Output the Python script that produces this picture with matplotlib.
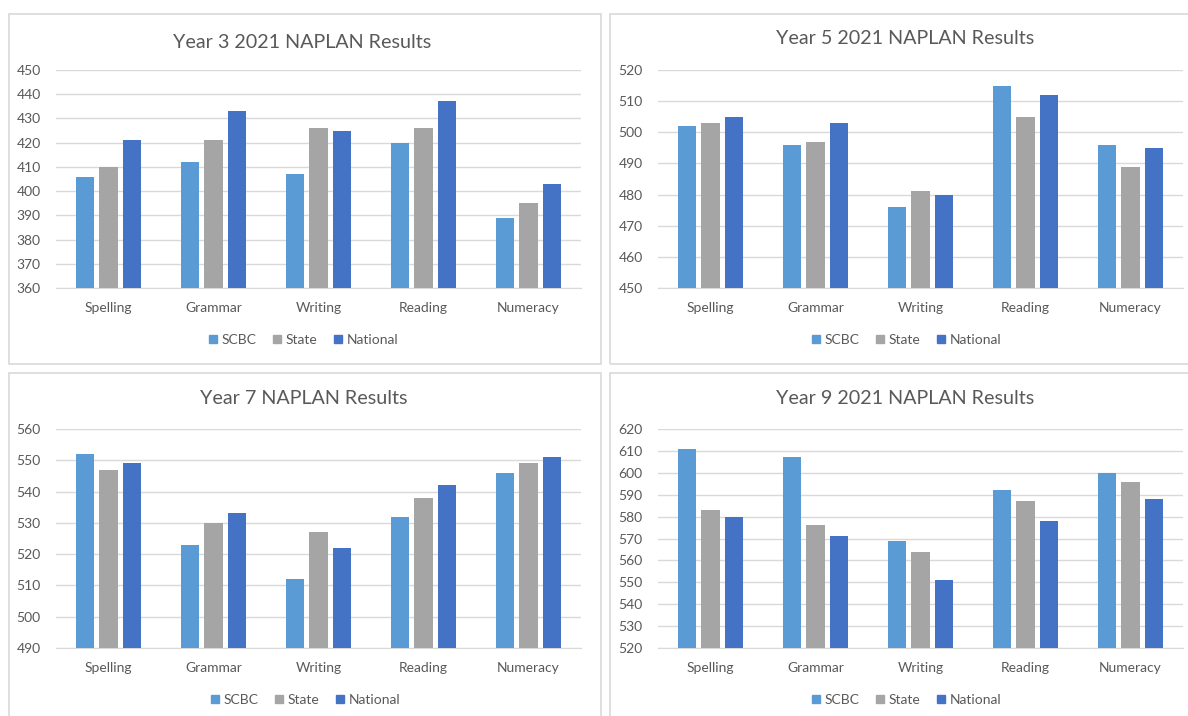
import numpy as np
import matplotlib
matplotlib.use("Agg")
import matplotlib.pyplot as plt
from matplotlib.patches import Rectangle
from matplotlib.lines import Line2D

plt.rcParams['font.family'] = ['Lato', 'DejaVu Sans']

# data
subjects = ["Spelling", "Grammar", "Writing", "Reading", "Numeracy"]
series = ["SCBC", "State", "National"]
colors = ["#5B9BD5", "#A5A5A5", "#4472C4"]

y3_scbc = [406, 412, 407, 420, 389]
y3_state = [410, 421, 426, 426, 395]
y3_nat = [421, 433, 425, 437, 403]

y5_scbc = [502, 496, 476, 515, 496]
y5_state = [503, 497, 481, 505, 489]
y5_nat = [505, 503, 480, 512, 495]

y7_scbc = [552, 523, 512, 532, 546]
y7_state = [547, 530, 527, 538, 549]
y7_nat = [549, 533, 522, 542, 551]

y9_scbc = [611, 607, 569, 592, 600]
y9_state = [583, 576, 564, 587, 596]
y9_nat = [580, 571, 551, 578, 588]

W, H = 1188, 716
TXT = "#595959"
GRID = "#D9D9D9"

fig = plt.figure(figsize=(W / 100, H / 100), dpi=100)


def px_rect(x0, y0, x1, y1):
    return [x0 / W, 1 - y1 / H, (x1 - x0) / W, (y1 - y0) / H]


# panel frames
for (x0, y0, x1, y1) in [(9, 14, 601, 364), (610, 14, 1200, 364),
                         (9, 373, 601, 730), (610, 373, 1200, 730)]:
    fig.add_artist(Rectangle((x0 / W, 1 - y1 / H), (x1 - x0) / W, (y1 - y0) / H,
                             transform=fig.transFigure, fill=False,
                             edgecolor="#D9D9D9", linewidth=1.2))

panels = [
    ("Year 3 2021 NAPLAN Results", (y3_scbc, y3_state, y3_nat), (360, 450), (56, 70, 581, 288), 302, 42, 340),
    ("Year 5 2021 NAPLAN Results", (y5_scbc, y5_state, y5_nat), (450, 520), (658, 70, 1183, 288), 905, 38, 340),
    ("Year 7 NAPLAN Results", (y7_scbc, y7_state, y7_nat), (490, 560), (56, 429, 581, 648), 304, 398, 700),
    ("Year 9 2021 NAPLAN Results", (y9_scbc, y9_state, y9_nat), (520, 620), (658, 429, 1183, 648), 905, 398, 700),
]

x = np.arange(len(subjects))
bw = 0.174
step = 0.224

for title, vals, (lo, hi), (x0, y0, x1, y1), tx, ty, ly in panels:
    ax = fig.add_axes(px_rect(x0, y0, x1, y1))
    for i, (v, c) in enumerate(zip(vals, colors)):
        ax.bar(x + (i - 1) * step, v, width=bw, color=c, label=series[i], zorder=3)
    ax.set_xlim(-0.5, len(subjects) - 0.5)
    ax.set_ylim(lo, hi)
    ax.set_yticks(np.arange(lo, hi + 1, 10))
    ax.set_xticks(x)
    ax.set_xticklabels(subjects)
    ax.tick_params(length=0, colors=TXT, labelsize=10)
    ax.tick_params(axis='x', pad=10)
    ax.tick_params(axis='y', pad=11)
    ax.grid(axis='y', color=GRID, linewidth=1, zorder=0)
    for s in ["top", "right", "left"]:
        ax.spines[s].set_visible(False)
    ax.spines["bottom"].set_color(GRID)
    ax.set_facecolor("none")
    fig.text(tx / W, 1 - ty / H, title, ha="center", va="center",
             fontsize=14.2, color=TXT)
    handles = [Line2D([], [], marker="s", linestyle="none", markersize=6,
                      markerfacecolor=c, markeredgecolor=c) for c in colors]
    fig.legend(handles, series, loc="center", bbox_to_anchor=(tx / W, 1 - ly / H),
               ncol=3, frameon=False, fontsize=10, labelcolor=TXT,
               handletextpad=0.1, columnspacing=1.0, handlelength=1.0)

fig.savefig("out.png", dpi=100, facecolor="white")
